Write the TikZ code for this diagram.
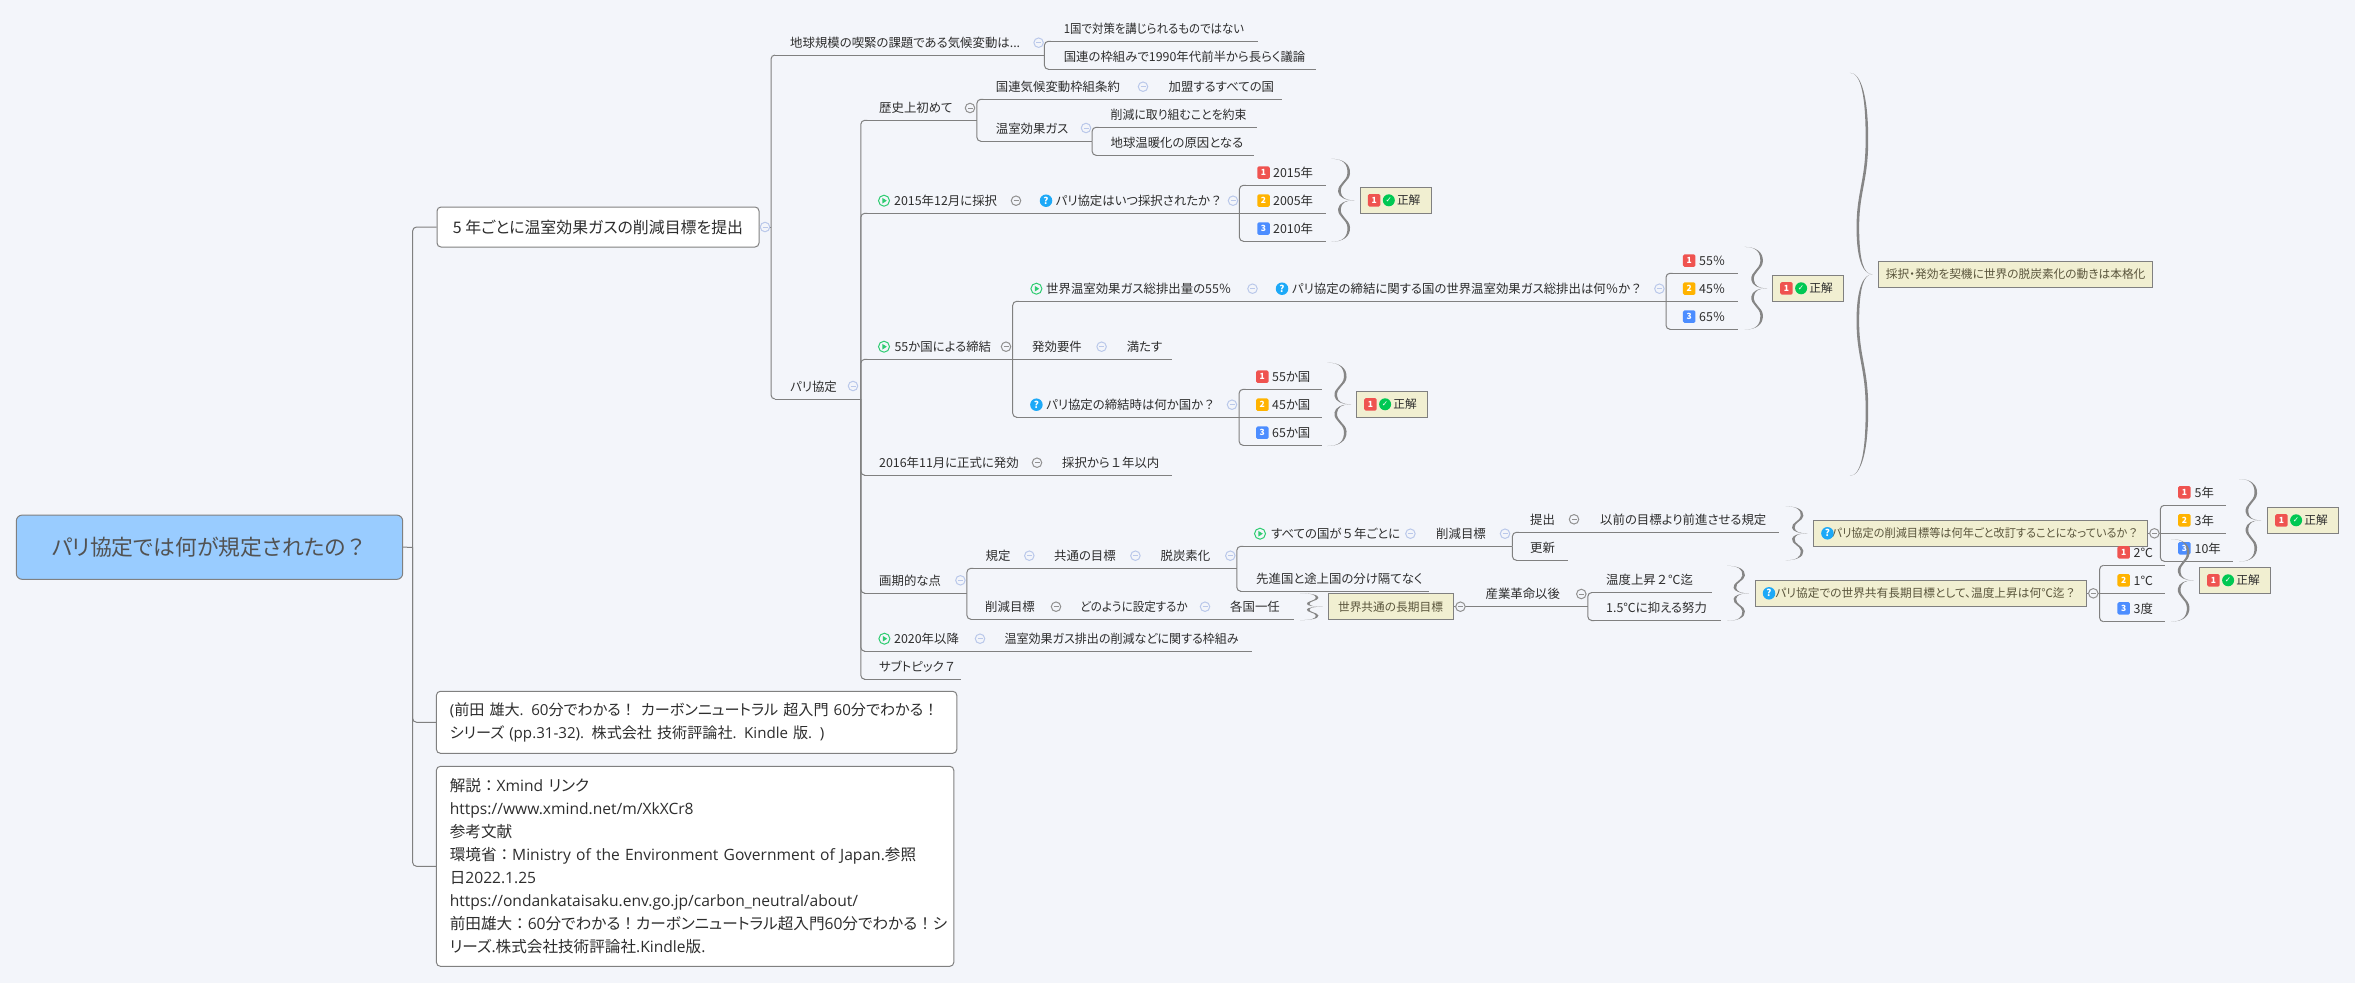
\documentclass[tikz,border=0pt]{standalone}
\usepackage{fontspec}
\setmainfont{Noto Sans CJK JP}[RawFeature=+palt]
\newfontfamily\fwfont{Noto Sans CJK JP}
\newfontfamily\checkfont{DejaVu Sans}
\newfontfamily\latinfont{Open Sans}
\newcommand{\fw}[1]{{\fwfont #1}}
\newcommand{\lat}[1]{{\latinfont #1}}
\newcommand{\squeeze}[2]{{\addfontfeature{FakeStretch=#1}#2}}
\usepackage{xcolor}
\usetikzlibrary{positioning, calc}
\definecolor{bgcolor}{RGB}{243,245,250}
\definecolor{linecolor}{RGB}{128,128,128}
\definecolor{rootcolor}{RGB}{153,204,255}
\definecolor{labelcolor}{RGB}{45,45,45}
\definecolor{notecolor}{RGB}{241,239,209}
\definecolor{notetext}{RGB}{90,85,60}
\definecolor{foldblue}{RGB}{186,200,234}
\definecolor{foldgray}{RGB}{145,145,145}
\definecolor{redbadge}{RGB}{239,83,80}
\definecolor{orangebadge}{RGB}{255,179,0}
\definecolor{bluebadge}{RGB}{76,141,255}
\definecolor{okgreen}{RGB}{0,200,83}
\definecolor{playgreen}{RGB}{46,204,113}
\definecolor{askblue}{RGB}{29,169,247}
\tikzset{
  conn/.style={draw=linecolor, line width=1pt, rounded corners=4pt},
  branch/.style={to path={(\tikztostart) |- ([xshift=4pt]\tikztotarget)}},
  ahead/.style={to path={(\tikztostart) -- ([xshift=4pt]\tikztotarget)}},
  topic/.style 2 args={anchor=south west, inner xsep=0pt, inner ysep=0pt, minimum height=25.2pt,
    text width=#1, align=left, text height=10pt, text depth=0pt, text=labelcolor,
    font=\fontsize{12.4}{14}\selectfont, execute at begin node={\hspace*{#2}},
    append after command={([xshift=4pt]\tikzlastnode.south west) edge[conn] (\tikzlastnode.south east)}},
  mainbox/.style={draw=linecolor, line width=1pt, rounded corners=4pt, fill=white, text=labelcolor,
    inner xsep=13.4pt, inner ysep=0pt, align=left, font=\fontsize{15.6}{23}\selectfont},
  notebox/.style={draw=linecolor, line width=1pt, fill=notecolor, text=notetext, inner sep=0pt,
    minimum height=26pt, font=\fontsize{11.7}{14}\selectfont},
  okbox/.style={notebox, minimum width=71pt, text=labelcolor, execute at begin node={\hspace*{26pt}}},
  foldb/.style={circle, draw=foldblue, line width=1pt, fill=bgcolor, minimum size=9.5pt, inner sep=0pt,
    path picture={\draw[foldblue, line width=.9pt] ([xshift=-2.5pt]path picture bounding box.center) -- ([xshift=2.5pt]path picture bounding box.center);}},
  foldg/.style={foldb, draw=foldgray, path picture={\draw[foldgray, line width=.9pt] ([xshift=-2.5pt]path picture bounding box.center) -- ([xshift=2.5pt]path picture bounding box.center);}},
  badge/.style={rounded corners=1.5pt, fill=#1, text=white, minimum width=12.5pt, minimum height=12.5pt,
    inner sep=0pt, font=\fontsize{8.5}{9}\selectfont\bfseries},
  okmark/.style={circle, fill=okgreen, text=white, minimum size=12pt, inner sep=0pt, font=\fontsize{7.5}{8}\checkfont},
  askicon/.style={circle, fill=askblue, text=white, minimum size=12.5pt, inner sep=0pt, font=\fontsize{9.5}{10}\selectfont\bfseries},
  playicon/.style={circle, draw=playgreen, line width=1pt, minimum size=11pt, inner sep=0pt,
    path picture={\fill[playgreen] ([xshift=-1.6pt,yshift=2.8pt]path picture bounding box.center) -- ([xshift=2.8pt]path picture bounding box.center) -- ([xshift=-1.6pt,yshift=-2.8pt]path picture bounding box.center) -- cycle;}},
  pics/curly/.style 2 args={code={
    \foreach \s in {1,-1} {
      \fill[linecolor!95!white] (0,0) .. controls (-.4*#1,0) and (-.67*#1,\s*.07*#2) .. (-.7*#1,\s*.2*#2)
        .. controls (-.75*#1,\s*.4*#2) and (-.32*#1,\s*.45*#2) .. (-.3*#1,\s*.65*#2)
        .. controls (-.28*#1,\s*.88*#2) and (-.5*#1,\s*#2) .. (-#1,\s*#2)
        .. controls (-.5*#1,\s*1.0*#2) and (-.28*#1+2.6,\s*.88*#2) .. (-.3*#1+2.6,\s*.65*#2)
        .. controls (-.32*#1+2.6,\s*.45*#2) and (-.75*#1+2.6,\s*.4*#2) .. (-.7*#1+2.6,\s*.2*#2)
        .. controls (-.67*#1+2.6,\s*.07*#2) and (-.4*#1,0) .. (0,0) -- cycle;
    }
  }},
}
\begin{document}
\begin{tikzpicture}[x=1pt, y=-1pt]
    \fill[bgcolor] (0,0) rectangle (2355,983);
    \useasboundingbox (0,0) rectangle (2355,983);

    % 中心トピック
    \node[draw=linecolor, line width=1pt, fill=rootcolor, rounded corners=6pt, minimum width=386.4pt, minimum height=64.3pt,
      inner sep=0pt, font=\fontsize{21.8}{24}\selectfont, text=black!68] (root) at (209.5,547.2) {パリ協定では何が規定されたの\fw{？}};
    \coordinate (rootTrunk) at (412.6,547.3);
    \draw[conn] (root.east) -- (rootTrunk);

    % 第1階層の箱
    \node[mainbox, minimum width=322pt, minimum height=40pt, font=\fontsize{15.9}{23}\selectfont] (goal) at (598,227) {5 年ごとに温室効果ガスの削減目標を提出};
    \node[mainbox, text width=493.6pt, minimum height=62pt, font=\fontsize{15.1}{23}\selectfont] (source) at (696.6,722.3) {\lat{(}前田 雄大\lat{. 60}分でわかる\fw{！} カーボンニュートラル 超入門 \lat{60}分でわかる\fw{！}\\シリーズ \lat{(pp.31-32).} 株式会社 技術評論社\lat{. Kindle} 版\lat{. )}};
    \node[mainbox, text width=490.6pt, minimum height=200pt] (refs) at (695.1,866.3) {解説\fw{：}\lat{Xmind} リンク\\\lat{https://www.xmind.net/m/XkXCr8}\\参考文献\\環境省\fw{：}\lat{Ministry of the Environment Government of Japan.}参照\\日\lat{2022.1.25}\\\lat{https://ondankataisaku.env.go.jp/carbon\_neutral/about/}\\前田雄大\fw{：}\lat{60}分でわかる\fw{！}カーボンニュートラル超入門\lat{60}分でわかる\fw{！}シ\\リーズ\lat{.}株式会社技術評論社\lat{.Kindle}版\lat{.}};
    \draw[conn] (rootTrunk) |- (goal.west);
    \draw[conn] (rootTrunk) |- (source.west);
    \draw[conn] (rootTrunk) |- (refs.west);

    % 地球規模の課題
    \coordinate (goalTrunk) at (771,227);
    \draw[conn] (goal.east) -- (goalTrunk);
    \node[foldb] (foldGoal) at (765,227) {};
    \node[topic={273pt}{19pt}] (climate) at (771,55) {地球規模の喫緊の課題である気候変動は...};
    \node[foldb] (foldClimate) at (1038.6,42.7) {};
    \node[topic={214pt}{19.6pt}] (oneland) at (1044,41.3) {\squeeze{.92}{1国で対策を講じられるものではない}};
    \node[topic={272pt}{19.6pt}] (debate) at (1044,69.3) {国連の枠組みで1990年代前半から長らく議論};
    \draw[conn] (goalTrunk) to[branch] (climate.south west);
    \draw[conn] (climate.south east) to[branch] (oneland.south west);
    \draw[conn] (climate.south east) to[branch] (debate.south west);

    % パリ協定
    \node[topic={89.4pt}{19pt}] (paris) at (771,399) {パリ協定};
    \node[foldb] (foldParis) at (853,386) {};
    \draw[conn] (goalTrunk) to[branch] (paris.south west);

    % 歴史上初めて
    \node[topic={116.1pt}{18.6pt}] (history) at (860.4,120.3) {歴史上初めて};
    \node[foldg] (foldHistory) at (970,108) {};
    \node[topic={173pt}{19.2pt}] (unfccc) at (976.5,99.3) {国連気候変動枠組条約};
    \node[foldb] (foldUnfccc) at (1143,86.7) {};
    \node[topic={132.5pt}{19pt}] (member) at (1149.5,99.3) {加盟するすべての国};
    \node[topic={115.2pt}{19.2pt}] (ghg) at (976.5,141.3) {温室効果ガス};
    \node[foldb] (foldGhg) at (1086,128) {};
    \node[topic={165pt}{18.7pt}] (pledge) at (1091.7,127.3) {\squeeze{.96}{削減に取り組むことを約束}};
    \node[topic={162pt}{18.7pt}] (warming) at (1091.7,155.3) {地球温暖化の原因となる};
    \draw[conn] (paris.south east) to[branch] (history.south west);
    \draw[conn] (history.south east) to[branch] (unfccc.south west);
    \draw[conn] (history.south east) to[branch] (ghg.south west);
    \draw[conn] (unfccc.south east) to[ahead] (member.south west);
    \draw[conn] (ghg.south east) to[branch] (pledge.south west);
    \draw[conn] (ghg.south east) to[branch] (warming.south west);

    % 2015年12月に採択
    \node[topic={161.6pt}{33.6pt}] (adopt) at (860.4,213.3) {2015年12月に採択};
    \node[playicon] (playAdopt) at (884,200.7) {};
    \node[foldg] (foldAdopt) at (1016,200.7) {};
    \node[topic={217pt}{33.5pt}] (askAdopt) at (1022,213.3) {パリ協定はいつ採択されたか\fw{？}};
    \node[askicon] (iconAdopt) at (1046,200.7) {?};
    \node[foldb] (foldAskAdopt) at (1233,200.7) {};
    \node[topic={87pt}{34pt}] (adoptA) at (1239,185.3) {2015年};
    \node[topic={87pt}{34pt}] (adoptB) at (1239,213.3) {2005年};
    \node[topic={87pt}{34pt}] (adoptC) at (1239,241.3) {2010年};
    \node[badge=redbadge] (adoptBadgeA) at (1263.5,172.7) {1};
    \node[badge=orangebadge] (adoptBadgeB) at (1263.5,200.7) {2};
    \node[badge=bluebadge] (adoptBadgeC) at (1263.5,228.7) {3};
    \draw[conn] (paris.south east) to[branch] (adopt.south west);
    \draw[conn] (adopt.south east) to[ahead] (askAdopt.south west);
    \draw[conn] (askAdopt.south east) to[branch] (adoptA.south west);
    \draw[conn] (askAdopt.south east) to[ahead] (adoptB.south west);
    \draw[conn] (askAdopt.south east) to[branch] (adoptC.south west);
    \node[okbox] (okAdopt) at (1395.7,200.3) {正解};
    \node[badge=redbadge, right=8pt of okAdopt.west, anchor=west] (okAdoptBadge) {1};
    \node[okmark, right=2pt of okAdoptBadge] (okAdoptMark) {✓};
    \pic at ([xshift=-5.4pt]okAdopt.west) {curly={23}{41.5}};

    % 55か国による締結
    \node[topic={151.9pt}{34pt}] (ratify) at (860.4,359.3) {55か国による締結};
    \node[playicon] (playRatify) at (884,346.7) {};
    \node[foldg] (foldRatify) at (1006,346.7) {};
    \node[topic={245.7pt}{33.7pt}] (share) at (1012.3,301.3) {世界温室効果ガス総排出量の55％};
    \node[playicon] (playShare) at (1036.4,288.7) {};
    \node[foldb] (foldShare) at (1252.5,288.7) {};
    \node[topic={407.6pt}{33.8pt}] (askShare) at (1258,301.3) {パリ協定の締結に関する国の世界温室効果ガス総排出は何％か\fw{？}};
    \node[askicon] (iconShare) at (1282,288.7) {?};
    \node[foldb] (foldAskShare) at (1659.4,288.7) {};
    \node[topic={72pt}{33.4pt}] (shareA) at (1665.6,273.3) {55％};
    \node[topic={72pt}{33.4pt}] (shareB) at (1665.6,301.3) {45％};
    \node[topic={72pt}{33.4pt}] (shareC) at (1665.6,329.3) {65％};
    \node[badge=redbadge] (shareBadgeA) at (1689.2,260.7) {1};
    \node[badge=orangebadge] (shareBadgeB) at (1689.2,288.7) {2};
    \node[badge=bluebadge] (shareBadgeC) at (1689.2,316.7) {3};
    \node[okbox] (okShare) at (1808,288.3) {正解};
    \node[badge=redbadge, right=8pt of okShare.west, anchor=west] (okShareBadge) {1};
    \node[okmark, right=2pt of okShareBadge] (okShareMark) {✓};
    \pic at ([xshift=-5pt]okShare.west) {curly={22.4}{41.4}};
    \node[topic={95.3pt}{19.7pt}] (effect) at (1012.3,359.3) {発効要件};
    \node[foldb] (foldEffect) at (1101.6,346.7) {};
    \node[topic={64.4pt}{19pt}] (fulfil) at (1107.6,359.3) {満たす};
    \node[topic={226.4pt}{33.7pt}] (askCount) at (1012.3,417.3) {パリ協定の締結時は何か国か\fw{？}};
    \node[askicon] (iconCount) at (1036.4,404.7) {?};
    \node[foldb] (foldAskCount) at (1232,404.7) {};
    \node[topic={83.3pt}{33.3pt}] (countA) at (1238.7,389.3) {55か国};
    \node[topic={83.3pt}{33.3pt}] (countB) at (1238.7,417.3) {45か国};
    \node[topic={83.3pt}{33.3pt}] (countC) at (1238.7,445.3) {65か国};
    \node[badge=redbadge] (countBadgeA) at (1262.3,376.7) {1};
    \node[badge=orangebadge] (countBadgeB) at (1262.3,404.7) {2};
    \node[badge=bluebadge] (countBadgeC) at (1262.3,432.7) {3};
    \node[okbox] (okCount) at (1392,404.3) {正解};
    \node[badge=redbadge, right=8pt of okCount.west, anchor=west] (okCountBadge) {1};
    \node[okmark, right=2pt of okCountBadge] (okCountMark) {✓};
    \pic at ([xshift=-5pt]okCount.west) {curly={23.6}{41.7}};
    \draw[conn] (paris.south east) to[branch] (ratify.south west);
    \draw[conn] (ratify.south east) to[branch] (share.south west);
    \draw[conn] (ratify.south east) to[ahead] (effect.south west);
    \draw[conn] (ratify.south east) to[branch] (askCount.south west);
    \draw[conn] (share.south east) to[ahead] (askShare.south west);
    \draw[conn] (effect.south east) to[ahead] (fulfil.south west);
    \draw[conn] (askShare.south east) to[branch] (shareA.south west);
    \draw[conn] (askShare.south east) to[ahead] (shareB.south west);
    \draw[conn] (askShare.south east) to[branch] (shareC.south west);
    \draw[conn] (askCount.south east) to[branch] (countA.south west);
    \draw[conn] (askCount.south east) to[ahead] (countB.south west);
    \draw[conn] (askCount.south east) to[branch] (countC.south west);

    % 採択・発効のまとめ
    \node[notebox, minimum width=274pt] (momentum) at (2015.6,274.3) {採択・発効を契機に世界の脱炭素化の動きは本格化};
    \pic at ([xshift=-5.8pt]momentum.west) {curly={22.4}{201.5}};

    % 2016年11月に正式に発効
    \node[topic={182.6pt}{18.6pt}] (enter) at (860.4,475.3) {2016年11月に正式に発効};
    \node[foldg] (foldEnter) at (1037,462.7) {};
    \node[topic={129pt}{19pt}] (within) at (1043,475.3) {採択から\fw{１}年以内};
    \draw[conn] (paris.south east) to[branch] (enter.south west);
    \draw[conn] (enter.south east) to[ahead] (within.south west);

    % 画期的な点
    \node[topic={106.1pt}{18.6pt}] (epoch) at (860.4,593.3) {画期的な点};
    \node[foldb] (foldEpoch) at (960.4,580.3) {};
    \node[topic={68.5pt}{19pt}] (rule) at (966.5,568.3) {規定};
    \node[foldb] (foldRule) at (1029.3,555.7) {};
    \node[topic={106pt}{19pt}] (common) at (1035,568.3) {共通の目標};
    \node[foldb] (foldCommon) at (1135.4,555.7) {};
    \node[topic={95.4pt}{19.4pt}] (decarb) at (1141,568.3) {脱炭素化};
    \node[foldb] (foldDecarb) at (1230.3,555.7) {};
    \node[topic={180.6pt}{34.6pt}] (everyone) at (1236.4,546.3) {すべての国が\fw{５}年ごとに};
    \node[playicon] (playEveryone) at (1260,533.7) {};
    \node[foldb] (foldEveryone) at (1410.4,533.7) {};
    \node[topic={95pt}{19pt}] (target) at (1417,546.3) {削減目標};
    \node[foldb] (foldTarget) at (1505,533.7) {};
    \node[topic={69pt}{18pt}] (submit) at (1512,532.3) {提出};
    \node[foldg] (foldSubmit) at (1574,519.3) {};
    \node[topic={198pt}{19pt}] (prior) at (1581,532.3) {以前の目標より前進させる規定};
    \node[topic={56pt}{18pt}] (update) at (1512,560.3) {更新};
    \node[topic={192.6pt}{19.6pt}] (nodiff) at (1236.4,591.3) {先進国と途上国の分け隔てなく};
    \node[topic={94.5pt}{18.5pt}] (targetB) at (966.5,619.3) {削減目標};
    \node[foldg] (foldTargetB) at (1056,606.7) {};
    \node[topic={150pt}{19pt}] (howto) at (1061,619.3) {\squeeze{.93}{どのように設定するか}};
    \node[foldb] (foldHowto) at (1205,606.7) {};
    \node[topic={83pt}{19pt}] (each) at (1211,619.3) {各国一任};
    \draw[conn] (paris.south east) to[branch] (epoch.south west);
    \draw[conn] (epoch.south east) to[branch] (rule.south west);
    \draw[conn] (epoch.south east) to[branch] (targetB.south west);
    \draw[conn] (rule.south east) to[ahead] (common.south west);
    \draw[conn] (common.south east) to[ahead] (decarb.south west);
    \draw[conn] (decarb.south east) to[branch] (everyone.south west);
    \draw[conn] (decarb.south east) to[branch] (nodiff.south west);
    \draw[conn] (everyone.south east) to[ahead] (target.south west);
    \draw[conn] (target.south east) to[branch] (submit.south west);
    \draw[conn] (target.south east) to[branch] (update.south west);
    \draw[conn] (submit.south east) to[ahead] (prior.south west);
    \draw[conn] (targetB.south east) to[ahead] (howto.south west);
    \draw[conn] (howto.south east) to[ahead] (each.south west);

    % 世界共通の長期目標
    \node[notebox, minimum width=125pt] (longterm) at (1390.5,606.7) {世界共通の長期目標};
    \pic at ([xshift=-5pt]longterm.west) {curly={22.3}{13.4}};
    \node[topic={121pt}{19pt}] (industrial) at (1466.4,606.7) {産業革命以後};
    \draw[conn] (longterm.east) to[ahead] (industrial.south west);
    \node[foldg] (foldLongterm) at (1460.4,606.7) {};
    \node[foldg] (foldIndustrial) at (1581.3,594) {};
    \node[topic={124.6pt}{18.6pt}] (two) at (1587.4,592.5) {温度上昇\fw{２}℃迄};
    \node[topic={133.3pt}{18.6pt}] (onefive) at (1587.4,620.5) {1.5℃に抑える努力};
    \draw[conn] (industrial.south east) to[branch] (two.south west);
    \draw[conn] (industrial.south east) to[branch] (onefive.south west);

    % 改訂の問い
    \node[notebox, minimum width=334.2pt, execute at begin node={\hspace*{10pt}}] (askRevise) at (1980.4,533.3) {\squeeze{.955}{パリ協定の削減目標等は何年ごと改訂することになっているか}\fw{？}};
    \node[askicon] (iconRevise) at (1827.4,533.3) {?};
    \pic at ([xshift=-5.5pt]askRevise.west) {curly={21.8}{27}};
    \coordinate (reviseTrunk) at (2160.3,533.3);
    \node[topic={65.7pt}{34.2pt}] (reviseA) at (2160.3,505.3) {5年};
    \node[topic={65.7pt}{34.2pt}] (reviseB) at (2160.3,533.3) {3年};
    \node[topic={72.5pt}{34.2pt}] (reviseC) at (2160.3,561.3) {10年};
    \node[badge=redbadge] (reviseBadgeA) at (2184.4,492.3) {1};
    \node[badge=orangebadge] (reviseBadgeB) at (2184.4,520.3) {2};
    \node[badge=bluebadge] (reviseBadgeC) at (2184.4,548.3) {3};
    \draw[conn] (askRevise.east) -- (reviseTrunk);
    \draw[conn] (reviseTrunk) to[branch] (reviseA.south west);
    \draw[conn] (reviseTrunk) to[ahead] (reviseB.south west);
    \draw[conn] (reviseTrunk) to[branch] (reviseC.south west);
    \node[foldg] (foldRevise) at (2154.4,533.3) {};
    \node[okbox] (okRevise) at (2303,520.3) {正解};
    \node[badge=redbadge, right=8pt of okRevise.west, anchor=west] (okReviseBadge) {1};
    \node[okmark, right=2pt of okReviseBadge] (okReviseMark) {✓};
    \pic at ([xshift=-6pt]okRevise.west) {curly={21.9}{41.3}};

    % 気温の問い
    \node[notebox, minimum width=331pt, execute at begin node={\hspace*{10pt}}] (askTemp) at (1920.9,593.3) {パリ協定での世界共有長期目標として、温度上昇は何℃迄\fw{？}};
    \node[askicon] (iconTemp) at (1769,593.3) {?};
    \pic at ([xshift=-6pt]askTemp.west) {curly={21.9}{27.5}};
    \coordinate (tempTrunk) at (2099.6,593.3);
    \node[topic={64.8pt}{33.8pt}] (tempA) at (2099.6,565.3) {2℃};
    \node[topic={64.8pt}{33.8pt}] (tempB) at (2099.6,593.3) {1℃};
    \node[topic={64.8pt}{33.8pt}] (tempC) at (2099.6,621.7) {3度};
    \node[badge=redbadge] (tempBadgeA) at (2123.7,552.3) {1};
    \node[badge=orangebadge] (tempBadgeB) at (2123.7,580.3) {2};
    \node[badge=bluebadge] (tempBadgeC) at (2123.7,608.3) {3};
    \draw[conn] (askTemp.east) -- (tempTrunk);
    \draw[conn] (tempTrunk) to[branch] (tempA.south west);
    \draw[conn] (tempTrunk) to[ahead] (tempB.south west);
    \draw[conn] (tempTrunk) to[branch] (tempC.south west);
    \node[foldg] (foldTemp) at (2093.3,593.3) {};
    \node[okbox] (okTemp) at (2235,580.3) {正解};
    \node[badge=redbadge, right=8pt of okTemp.west, anchor=west] (okTempBadge) {1};
    \node[okmark, right=2pt of okTempBadge] (okTempMark) {✓};
    \pic at ([xshift=-5.5pt]okTemp.west) {curly={22.3}{41.3}};

    % 2020年以降とサブトピック
    \node[topic={124.6pt}{33.6pt}] (after) at (860.4,651.3) {2020年以降};
    \node[playicon] (playAfter) at (884.4,638.7) {};
    \node[foldb] (foldAfter) at (980,638.7) {};
    \node[topic={267pt}{19.3pt}] (frame) at (985,651.3) {\squeeze{.97}{温室効果ガス排出の削減などに関する枠組み}};
    \node[topic={100pt}{18.6pt}] (subseven) at (860.4,679.3) {サブトピック\fw{７}};
    \draw[conn] (paris.south east) to[branch] (after.south west);
    \draw[conn] (after.south east) to[ahead] (frame.south west);
    \draw[conn] (paris.south east) to[branch] (subseven.south west);
\end{tikzpicture}
\end{document}
